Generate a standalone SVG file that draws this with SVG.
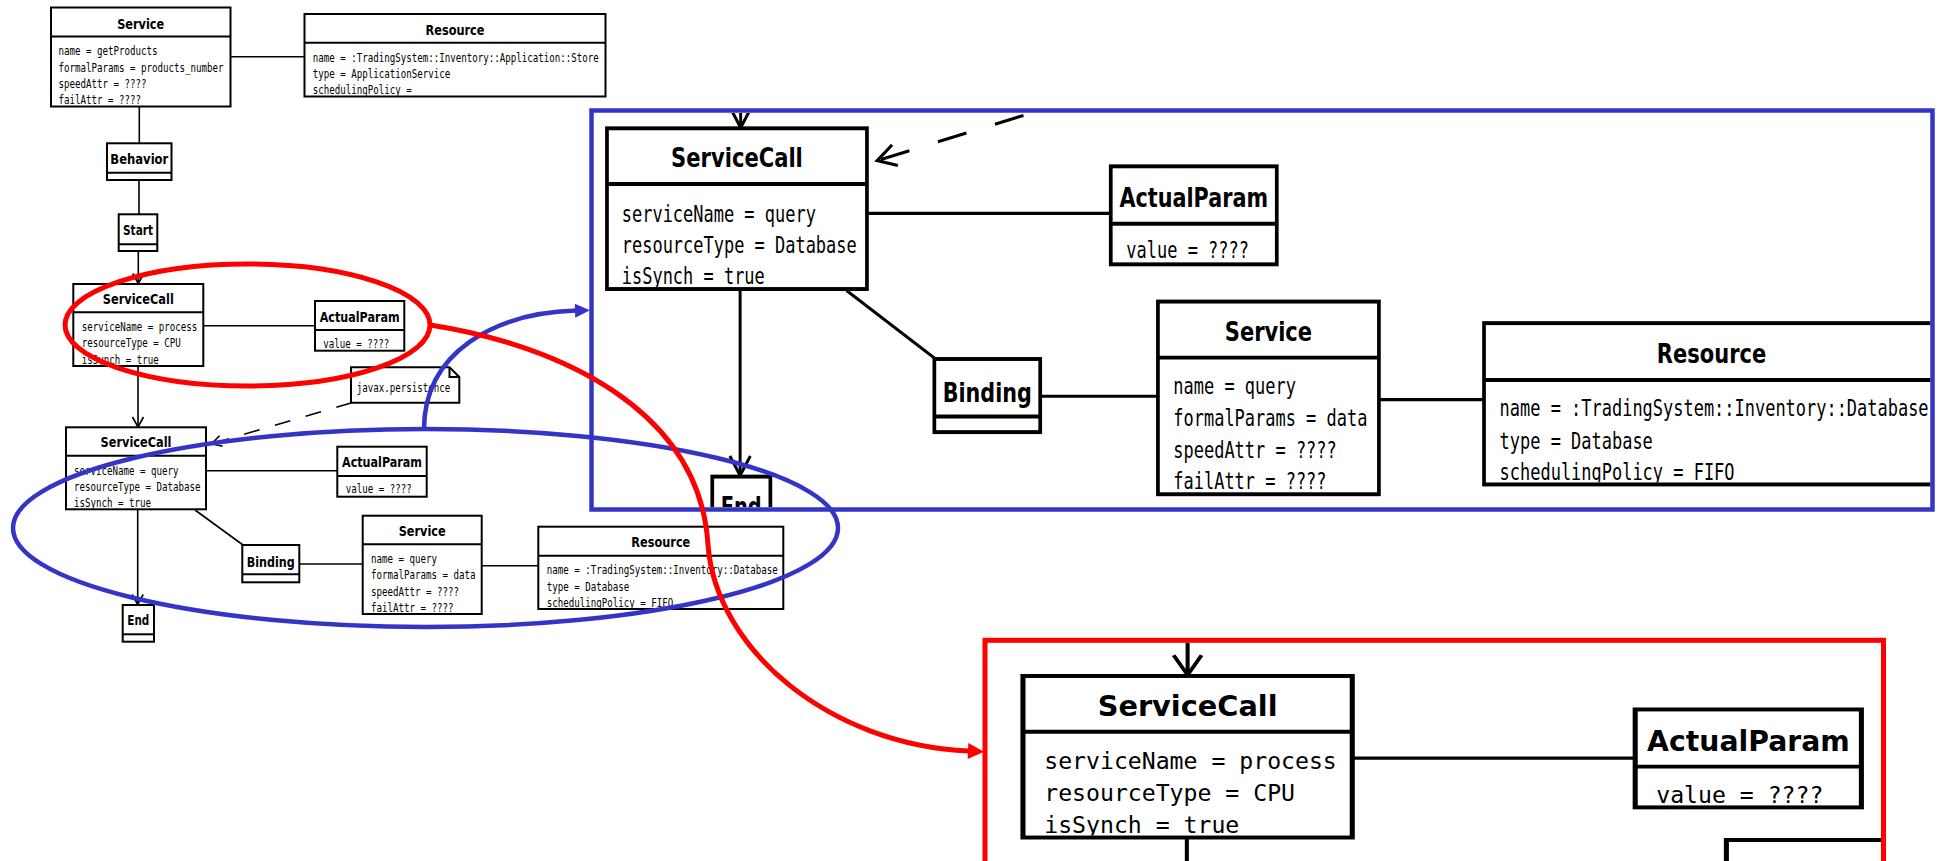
<svg xmlns="http://www.w3.org/2000/svg" xmlns:xlink="http://www.w3.org/1999/xlink" width="1945" height="861" viewBox="0 0 1945 861">
  <style>
    .box { fill: #fff; stroke: #000; stroke-width: 2; }
    .sep { stroke: #000; stroke-width: 2; fill: none; }
    .ln { stroke: #000; stroke-width: 1.6; fill: none; }
    .dash { stroke: #000; stroke-width: 1.6; fill: none; stroke-dasharray: 16 16; }
    .t { font-family: "DejaVu Sans", "Liberation Sans", sans-serif; font-weight: bold; font-size: 14px; text-anchor: middle; fill: #000; }
    .a { font-family: "DejaVu Sans Mono", "Liberation Mono", monospace; font-size: 12px; fill: #000; }
    .hl-red { fill: none; stroke: #ff0000; stroke-width: 5; }
    .hl-blue { fill: none; stroke: #3434c8; stroke-width: 4.5; }
  </style>
  <defs>
    <marker id="open" markerUnits="userSpaceOnUse" markerWidth="14" markerHeight="14" viewBox="0 0 14 14" refX="12" refY="7" orient="auto" overflow="visible">
      <path d="M2,1.5 L12,7 L2,12.5" fill="none" stroke="#000" stroke-width="1.6"/>
    </marker>
    <marker id="head-red" markerUnits="userSpaceOnUse" markerWidth="20" markerHeight="20" viewBox="0 0 20 20" refX="1" refY="10" orient="auto" overflow="visible">
      <path d="M0,2 L16,10 L0,18 Z" fill="#ff0000"/>
    </marker>
    <marker id="head-blue" markerUnits="userSpaceOnUse" markerWidth="20" markerHeight="20" viewBox="0 0 20 20" refX="1" refY="10" orient="auto" overflow="visible">
      <path d="M0,3 L15,10 L0,17 Z" fill="#3434c8"/>
    </marker>
    <!-- attribute compartments clip their overflowing last line -->
    <clipPath id="c-svc1"><rect x="51" y="36.5" width="179.5" height="69"/></clipPath>
    <clipPath id="c-res1"><rect x="304.5" y="42.7" width="301" height="53"/></clipPath>
    <clipPath id="c-sc1"><rect x="73.3" y="312.3" width="130" height="52.7"/></clipPath>
    <clipPath id="c-ap1"><rect x="315" y="330" width="89.3" height="19.7"/></clipPath>
    <clipPath id="c-sc2"><rect x="66" y="455.7" width="140" height="52.6"/></clipPath>
    <clipPath id="c-ap2"><rect x="337.3" y="476" width="89.4" height="19.7"/></clipPath>
    <clipPath id="c-svc2"><rect x="362.7" y="544.3" width="119" height="68.7"/></clipPath>
    <clipPath id="c-res2"><rect x="538.3" y="555.7" width="245" height="52.3"/></clipPath>
    <!-- inner areas of the two magnified views -->
    <clipPath id="clip-blue"><rect x="594" y="113" width="1336.5" height="394"/></clipPath>
    <clipPath id="clip-red"><rect x="987.5" y="642.8" width="893.5" height="220"/></clipPath>
  </defs>

  <rect x="0" y="0" width="1945" height="861" fill="#fff"/>

  <g id="diagram">
    <g id="connectors">
      <line class="ln" x1="230.5" y1="56.7" x2="304.5" y2="56.7"/>
      <line class="ln" x1="139.3" y1="106.5" x2="139.3" y2="143.3"/>
      <line class="ln" x1="139" y1="180" x2="139" y2="214.3"/>
      <line class="ln" x1="138.3" y1="251" x2="138.3" y2="283.5" marker-end="url(#open)"/>
      <line class="ln" x1="203.3" y1="325.7" x2="315" y2="325.7"/>
      <line class="ln" x1="138" y1="366" x2="138" y2="427" marker-end="url(#open)"/>
      <line class="dash" x1="351.7" y1="402.7" x2="211.5" y2="443.8" marker-end="url(#open)"/>
      <line class="ln" x1="206" y1="470.7" x2="337.3" y2="470.7"/>
      <line class="ln" x1="137.7" y1="509.3" x2="137.7" y2="604.5" marker-end="url(#open)"/>
      <line class="ln" x1="195" y1="510" x2="243" y2="545"/>
      <line class="ln" x1="299.3" y1="564" x2="362.7" y2="564"/>
      <line class="ln" x1="481.7" y1="565.7" x2="538.3" y2="565.7"/>
    </g>

    <g id="service-getProducts">
      <rect class="box" x="51" y="7.5" width="179.5" height="99"/>
      <line class="sep" x1="51" y1="36.5" x2="230.5" y2="36.5"/>
      <text class="t" x="140.7" y="28.5" textLength="47" lengthAdjust="spacingAndGlyphs">Service</text>
      <g clip-path="url(#c-svc1)">
        <text class="a" x="58.5" y="55" textLength="99" lengthAdjust="spacingAndGlyphs">name = getProducts</text>
        <text class="a" x="58.5" y="71.5" textLength="165" lengthAdjust="spacingAndGlyphs">formalParams = products_number</text>
        <text class="a" x="58.5" y="87.7" textLength="88" lengthAdjust="spacingAndGlyphs">speedAttr = ????</text>
        <text class="a" x="58.5" y="104" textLength="82.5" lengthAdjust="spacingAndGlyphs">failAttr = ????</text>
      </g>
    </g>

    <g id="resource-store">
      <rect class="box" x="304.5" y="14" width="301" height="82.5"/>
      <line class="sep" x1="304.5" y1="42.7" x2="605.5" y2="42.7"/>
      <text class="t" x="455" y="34.5" textLength="59" lengthAdjust="spacingAndGlyphs">Resource</text>
      <g clip-path="url(#c-res1)">
        <text class="a" x="312.7" y="61.7" textLength="286" lengthAdjust="spacingAndGlyphs">name = :TradingSystem::Inventory::Application::Store</text>
        <text class="a" x="312.7" y="77.7" textLength="137.5" lengthAdjust="spacingAndGlyphs">type = ApplicationService</text>
        <text class="a" x="312.7" y="94" textLength="99" lengthAdjust="spacingAndGlyphs">schedulingPolicy =</text>
      </g>
    </g>

    <g id="behavior">
      <rect class="box" x="107" y="143.3" width="64.5" height="36.7"/>
      <line class="sep" x1="107" y1="172.7" x2="171.5" y2="172.7"/>
      <text class="t" x="139.3" y="164.3" textLength="58" lengthAdjust="spacingAndGlyphs">Behavior</text>
    </g>

    <g id="start">
      <rect class="box" x="118.7" y="214.3" width="38.6" height="36.7"/>
      <line class="sep" x1="118.7" y1="244.3" x2="157.3" y2="244.3"/>
      <text class="t" x="138" y="235" textLength="30" lengthAdjust="spacingAndGlyphs">Start</text>
    </g>

    <g id="servicecall-process">
      <rect class="box" x="73.3" y="284" width="130" height="82"/>
      <line class="sep" x1="73.3" y1="312.3" x2="203.3" y2="312.3"/>
      <text class="t" x="138.3" y="304.3" textLength="71" lengthAdjust="spacingAndGlyphs">ServiceCall</text>
      <g clip-path="url(#c-sc1)">
        <text class="a" x="81.7" y="331" textLength="115.5" lengthAdjust="spacingAndGlyphs">serviceName = process</text>
        <text class="a" x="81.7" y="347.3" textLength="99" lengthAdjust="spacingAndGlyphs">resourceType = CPU</text>
        <text class="a" x="81.7" y="363.5" textLength="77" lengthAdjust="spacingAndGlyphs">isSynch = true</text>
      </g>
    </g>

    <g id="actualparam-process">
      <rect class="box" x="315" y="301" width="89.3" height="49.7"/>
      <line class="sep" x1="315" y1="330" x2="404.3" y2="330"/>
      <text class="t" x="359.7" y="322.3" textLength="80" lengthAdjust="spacingAndGlyphs">ActualParam</text>
      <g clip-path="url(#c-ap1)">
        <text class="a" x="323.3" y="348.3" textLength="66" lengthAdjust="spacingAndGlyphs">value = ????</text>
      </g>
    </g>

    <g id="note-persistence">
      <path class="box" d="M351,367.3 H449.5 L459.3,377 V402.7 H351 Z"/>
      <path class="sep" d="M449.5,367.3 V377 H459.3" stroke-width="1.4"/>
      <text class="a" x="356.7" y="392.3" textLength="93.5" lengthAdjust="spacingAndGlyphs">javax.persistence</text>
    </g>

    <g id="servicecall-query">
      <rect class="box" x="66" y="427.3" width="140" height="82"/>
      <line class="sep" x1="66" y1="455.7" x2="206" y2="455.7"/>
      <text class="t" x="136" y="447.3" textLength="71" lengthAdjust="spacingAndGlyphs">ServiceCall</text>
      <g clip-path="url(#c-sc2)">
        <text class="a" x="74" y="475" textLength="104.5" lengthAdjust="spacingAndGlyphs">serviceName = query</text>
        <text class="a" x="74" y="491" textLength="126.5" lengthAdjust="spacingAndGlyphs">resourceType = Database</text>
        <text class="a" x="74" y="506.9" textLength="77" lengthAdjust="spacingAndGlyphs">isSynch = true</text>
      </g>
    </g>

    <g id="actualparam-query">
      <rect class="box" x="337.3" y="446.7" width="89.4" height="50"/>
      <line class="sep" x1="337.3" y1="476" x2="426.7" y2="476"/>
      <text class="t" x="382" y="467.3" textLength="80" lengthAdjust="spacingAndGlyphs">ActualParam</text>
      <g clip-path="url(#c-ap2)">
        <text class="a" x="345.7" y="493.3" textLength="66" lengthAdjust="spacingAndGlyphs">value = ????</text>
      </g>
    </g>

    <g id="end">
      <rect class="box" x="122.7" y="605" width="31.3" height="36.7"/>
      <line class="sep" x1="122.7" y1="634.3" x2="154" y2="634.3"/>
      <text class="t" x="138.3" y="625" textLength="22" lengthAdjust="spacingAndGlyphs">End</text>
    </g>

    <g id="binding">
      <rect class="box" x="242.3" y="545" width="57" height="37.3"/>
      <line class="sep" x1="242.3" y1="574.3" x2="299.3" y2="574.3"/>
      <text class="t" x="270.8" y="566.7" textLength="48" lengthAdjust="spacingAndGlyphs">Binding</text>
    </g>

    <g id="service-query">
      <rect class="box" x="362.7" y="515.7" width="119" height="98.3"/>
      <line class="sep" x1="362.7" y1="544.3" x2="481.7" y2="544.3"/>
      <text class="t" x="422.2" y="535.7" textLength="47" lengthAdjust="spacingAndGlyphs">Service</text>
      <g clip-path="url(#c-svc2)">
        <text class="a" x="371" y="562.7" textLength="66" lengthAdjust="spacingAndGlyphs">name = query</text>
        <text class="a" x="371" y="579" textLength="104.5" lengthAdjust="spacingAndGlyphs">formalParams = data</text>
        <text class="a" x="371" y="595.7" textLength="88" lengthAdjust="spacingAndGlyphs">speedAttr = ????</text>
        <text class="a" x="371" y="611.5" textLength="82.5" lengthAdjust="spacingAndGlyphs">failAttr = ????</text>
      </g>
    </g>

    <g id="resource-database">
      <rect class="box" x="538.3" y="526.7" width="245" height="82.3"/>
      <line class="sep" x1="538.3" y1="555.7" x2="783.3" y2="555.7"/>
      <text class="t" x="660.8" y="547.3" textLength="59" lengthAdjust="spacingAndGlyphs">Resource</text>
      <g clip-path="url(#c-res2)">
        <text class="a" x="546.7" y="574" textLength="231" lengthAdjust="spacingAndGlyphs">name = :TradingSystem::Inventory::Database</text>
        <text class="a" x="546.7" y="590.7" textLength="82.5" lengthAdjust="spacingAndGlyphs">type = Database</text>
        <text class="a" x="546.7" y="606.5" textLength="126.5" lengthAdjust="spacingAndGlyphs">schedulingPolicy = FIFO</text>
      </g>
    </g>
  </g>

  <!-- magnified view of the query call -->
  <g id="zoom-query">
    <rect x="591.5" y="110.5" width="1341" height="399" fill="#fff"/>
    <g clip-path="url(#clip-blue)">
      <use xlink:href="#diagram" href="#diagram" transform="matrix(1.857,0,0,1.96,484.4,-709.2)"/>
    </g>
    <rect class="hl-blue" x="591.5" y="110.5" width="1341" height="399"/>
  </g>

  <!-- magnified view of the process call -->
  <g id="zoom-process">
    <rect x="985" y="640.3" width="898.5" height="240" fill="#fff"/>
    <g clip-path="url(#clip-red)">
      <use xlink:href="#diagram" href="#diagram" transform="matrix(2.533,0,0,1.97,837.3,116.5)"/>
    </g>
    <rect class="hl-red" x="985" y="640.3" width="898.5" height="240"/>
  </g>

  <!-- highlight rings and the arrows to their magnified views -->
  <g id="highlights">
    <ellipse class="hl-blue" cx="425.5" cy="528" rx="412.5" ry="99"/>
    <path class="hl-blue" d="M424,429.5 C424,352 495,313 576,310.6" marker-end="url(#head-blue)"/>
    <ellipse class="hl-red" cx="247.5" cy="325" rx="182.5" ry="61"/>
    <path class="hl-red" d="M430,325 C560,345 700,410 708,545 C716,650 830,745 969,751" marker-end="url(#head-red)"/>
  </g>
</svg>
